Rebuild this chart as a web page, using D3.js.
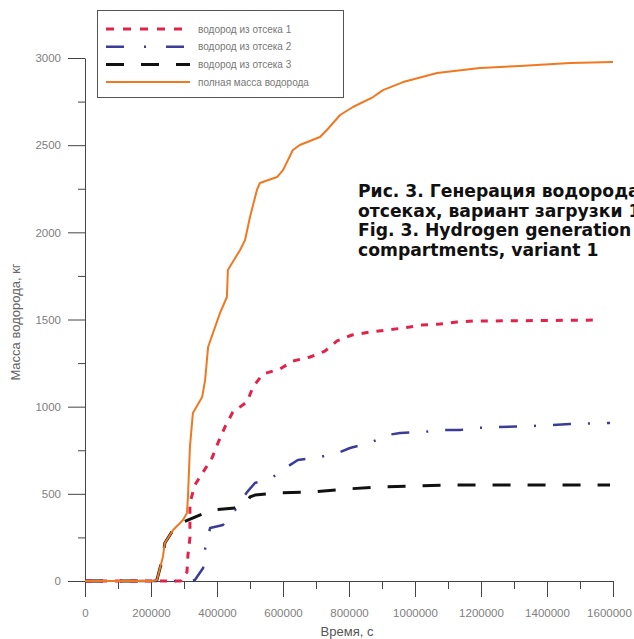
<!DOCTYPE html>
<html>
<head>
<meta charset="utf-8">
<script src="https://cdn.jsdelivr.net/npm/d3@7"></script>
<style>
  body { margin: 0; background: #fff; overflow: hidden; }
  svg { display: block; }
  .tick text { fill: #808080; font-family: "Liberation Sans", Arial, sans-serif; font-size: 11.5px; }
  .domain, .tick line { stroke: #444; }
</style>
</head>
<body>
<div id="chart"></div>
<script>
// time, s / mass, kg
var totalT = [0, 203000, 218000, 236000, 242000, 267000, 297000, 309000, 312000, 318000, 327000, 355000, 364000, 373000, 409000, 430000, 433000, 470000, 485000, 500000, 521000, 530000, 582000, 600000, 630000, 651000, 712000, 733000, 773000, 812000, 873000, 903000, 964000, 1067000, 1197000, 1318000, 1470000, 1600000];
var totalM = [0, 0, 6, 138, 218, 293, 350, 390, 482, 769, 964, 1055, 1153, 1342, 1537, 1629, 1784, 1899, 1956, 2088, 2243, 2283, 2317, 2357, 2472, 2501, 2547, 2587, 2673, 2719, 2776, 2816, 2862, 2914, 2943, 2954, 2971, 2977];

var comp1T = [0, 290000, 309000, 312000, 318000, 318000, 333000, 358000, 385000, 403000, 424000, 448000, 491000, 509000, 539000, 591000, 630000, 682000, 727000, 764000, 809000, 864000, 915000, 964000, 1021000, 1076000, 1127000, 1176000, 1560000];
var comp1M = [0, 0, 52, 149, 247, 447, 551, 625, 706, 792, 883, 969, 1027, 1113, 1187, 1216, 1262, 1285, 1319, 1377, 1411, 1428, 1440, 1451, 1468, 1474, 1486, 1491, 1497];

var comp2T = [0, 318000, 333000, 358000, 364000, 379000, 418000, 455000, 491000, 515000, 570000, 612000, 645000, 712000, 773000, 803000, 864000, 915000, 955000, 1024000, 1085000, 1136000, 1188000, 1248000, 1357000, 1470000, 1591000];
var comp2M = [0, 0, 6, 75, 184, 304, 321, 407, 510, 562, 597, 654, 694, 711, 740, 763, 792, 837, 849, 855, 866, 866, 878, 883, 889, 901, 906];

var comp3T = [0, 203000, 218000, 236000, 242000, 267000, 297000, 333000, 385000, 455000, 491000, 500000, 515000, 582000, 682000, 794000, 894000, 1006000, 1127000, 1339000, 1591000];
var comp3M = [0, 0, 6, 138, 218, 293, 338, 367, 407, 419, 453, 482, 493, 505, 510, 528, 539, 545, 551, 551, 551];

var seriesNames = ["водород из отсека 1", "водород из отсека 2", "водород из отсека 3", "полная масса водорода"];
var xTicks = [0, 200000, 400000, 600000, 800000, 1000000, 1200000, 1400000, 1600000];
var yTicks = [0, 500, 1000, 1500, 2000, 2500, 3000];
var captionLines = ["Рис. 3. Генерация водорода в", "отсеках, вариант загрузки 1", "Fig. 3. Hydrogen generation in", "compartments, variant 1"];

var W = 634, H = 639;
var svg = d3.select("#chart").append("svg").attr("width", W).attr("height", H);

var x = d3.scaleLinear().domain([0, 1600000]).range([85, 613]);
var y = d3.scaleLinear().domain([0, 3000]).range([581, 58]);

function zip(t, m) { return t.map(function(d, i) { return [d, m[i]]; }); }

var styles = [
  {color: "#e3224c", width: 3, dash: "7,8"},
  {color: "#3b3b98", width: 2.5, dash: "18,17,2,17"},
  {color: "#111", width: 3, dash: "18,17"},
  {color: "#f07820", width: 2, dash: null}
];
var data = [zip(comp1T, comp1M), zip(comp2T, comp2M), zip(comp3T, comp3M), zip(totalT, totalM)];

// axes
var xMinor = d3.range(100000, 1600000, 200000);
var yMinor = d3.range(250, 3000, 500);

svg.append("g").attr("transform", "translate(0,581)")
  .call(d3.axisBottom(x).tickValues(xMinor).tickSize(8).tickFormat(""))
  .select(".domain").remove();
var xAxisG = svg.append("g").attr("transform", "translate(0,581)")
  .call(d3.axisBottom(x).tickValues(xTicks).tickSize(16).tickSizeOuter(0).tickPadding(12).tickFormat(d3.format("d")));
// last label sits against the right edge, as in the original
xAxisG.selectAll(".tick text").filter(function(d) { return d === 1600000; }).attr("dx", -4);

svg.append("g").attr("transform", "translate(85,0)")
  .call(d3.axisLeft(y).tickValues(yMinor).tickSize(7).tickFormat(""))
  .select(".domain").remove();
svg.append("g").attr("transform", "translate(85,0)")
  .call(d3.axisLeft(y).tickValues(yTicks).tickSize(17).tickSizeOuter(0).tickPadding(7).tickFormat(d3.format("d")));

// lines, total last so it sits on top
var line = d3.line().x(function(d) { return x(d[0]); }).y(function(d) { return y(d[1]); });
[2, 1, 0, 3].forEach(function(i) {
  svg.append("path")
    .datum(data[i])
    .attr("fill", "none")
    .attr("stroke", styles[i].color)
    .attr("stroke-width", styles[i].width)
    .attr("stroke-dasharray", styles[i].dash)
    .attr("stroke-linejoin", "round")
    .attr("d", line);
});

// legend
var lg = svg.append("g");
lg.append("rect").attr("x", 97.5).attr("y", 10.5).attr("width", 246).attr("height", 87)
  .attr("fill", "#fff").attr("stroke", "#555");
seriesNames.forEach(function(name, i) {
  var ly = 29 + i * 17.7;
  lg.append("line").attr("x1", 106).attr("x2", 190).attr("y1", ly).attr("y2", ly)
    .attr("stroke", styles[i].color).attr("stroke-width", styles[i].width)
    .attr("stroke-dasharray", i === 0 ? "8,9" : (i === 1 ? "18,20,2,20" : styles[i].dash));
  lg.append("text").attr("x", 198).attr("y", ly + 3.5).text(name)
    .attr("font-family", "Liberation Sans, Arial, sans-serif").attr("font-size", 10).attr("fill", "#777");
});

// axis titles
svg.append("text").attr("transform", "translate(20,322) rotate(-90)")
  .attr("text-anchor", "middle").attr("font-family", "Liberation Sans, Arial, sans-serif")
  .attr("font-size", 13).attr("fill", "#666").text("Масса водорода, кг");
svg.append("text").attr("x", 347).attr("y", 636)
  .attr("text-anchor", "middle").attr("font-family", "Liberation Sans, Arial, sans-serif")
  .attr("font-size", 13).attr("fill", "#555").text("Время, с");

// caption (runs past the right edge in the original page crop)
captionLines.forEach(function(t, i) {
  svg.append("text").attr("x", 358).attr("y", 197 + i * 19.5)
    .attr("font-family", "DejaVu Sans, sans-serif").attr("font-weight", "bold")
    .attr("font-size", 17.2).attr("fill", "#111").text(t);
});
</script>
</body>
</html>
